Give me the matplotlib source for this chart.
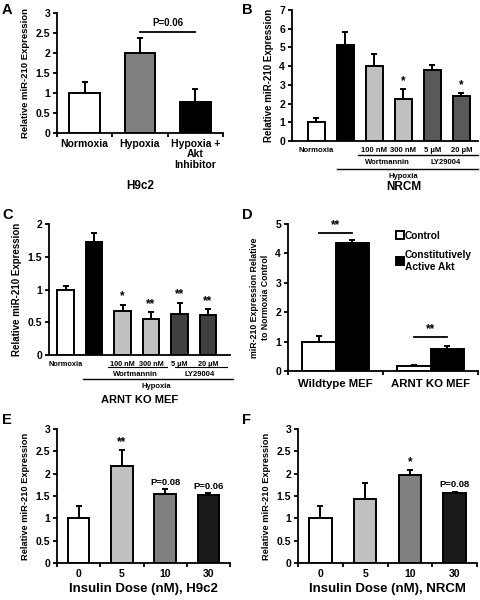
import matplotlib
matplotlib.use("Agg")
import matplotlib.pyplot as plt
from matplotlib.transforms import offset_copy
from matplotlib.lines import Line2D
import numpy as np

plt.rcParams['font.family'] = ['Liberation Sans', 'DejaVu Sans']
plt.rcParams['font.weight'] = 'bold'
plt.rcParams['axes.labelweight'] = 'bold'

# ---- data ----
a_labels = ["Normoxia", "Hypoxia", "Hypoxia +\nAkt\nInhibitor"]
a_vals = [1.0, 2.0, 0.78]
a_err = [0.28, 0.38, 0.32]
a_colors = ["white", "#808080", "black"]

b_labels = ["Normoxia", "", "100 nM", "300 nM", "5 µM", "20 µM"]
b_vals = [1.0, 5.15, 4.0, 2.22, 3.82, 2.42]
b_err = [0.22, 0.68, 0.65, 0.55, 0.22, 0.15]
b_colors = ["white", "black", "#c0c0c0", "#c0c0c0", "#595959", "#595959"]
b_stars = ["", "", "", "*", "", "*"]

c_labels = ["Normoxia", "", "100 nM", "300 nM", "5 µM", "20 µM"]
c_vals = [1.0, 1.73, 0.67, 0.55, 0.63, 0.61]
c_err = [0.06, 0.13, 0.10, 0.10, 0.17, 0.09]
c_colors = ["white", "black", "#c0c0c0", "#c0c0c0", "#404040", "#404040"]
c_stars = ["", "", "*", "**", "**", "**"]

d_groups = ["Wildtype MEF", "ARNT KO MEF"]
d_control = [1.0, 0.18]
d_control_err = [0.18, 0.04]
d_active = [4.35, 0.75]
d_active_err = [0.10, 0.10]

e_labels = ["0", "5", "10", "30"]
e_vals = [1.0, 2.18, 1.55, 1.52]
e_err = [0.27, 0.34, 0.10, 0.04]
e_colors = ["white", "#c0c0c0", "#808080", "#1a1a1a"]
e_notes = ["", "**", "P=0.08", "P=0.06"]

f_labels = ["0", "5", "10", "30"]
f_vals = [1.0, 1.43, 1.97, 1.56]
f_err = [0.27, 0.35, 0.11, 0.04]
f_colors = ["white", "#c0c0c0", "#808080", "#1a1a1a"]
f_notes = ["", "", "*", "P=0.08"]

W, H = 480, 600
fig = plt.figure(figsize=(4.8, 6), dpi=100)


def px_axes(l, r, t, b):
    return fig.add_axes([l / W, 1 - b / H, (r - l) / W, (b - t) / H])


def style(ax, ymax, yticks, ylabels, xlim, n, ysize=7.5):
    for s in ["top", "right"]:
        ax.spines[s].set_visible(False)
    for s in ["left", "bottom"]:
        ax.spines[s].set_linewidth(1.3)
    ax.set_ylim(0, ymax)
    ax.set_xlim(*xlim)
    ax.set_yticks(yticks)
    ax.set_yticklabels(ylabels, fontsize=ysize)
    ax.tick_params(axis="y", direction="out", length=3, width=1.3, pad=2)
    ax.set_xticks(np.arange(n) - 0.5, minor=True)
    ax.tick_params(axis="x", which="minor", direction="out", length=3, width=1.3)
    ax.tick_params(axis="x", which="major", length=0)


def bars(ax, vals, errs, colors, width):
    x = np.arange(len(vals))
    ax.errorbar(x, vals, yerr=[np.zeros(len(errs)), errs], fmt="none",
                ecolor="black", elinewidth=1.4, capsize=2, capthick=1.4, zorder=2)
    ax.bar(x, vals, width=width, color=colors, edgecolor="black", linewidth=1.4, zorder=3)
    return x


def below(ax, d):
    return offset_copy(ax.get_xaxis_transform(), fig=fig, y=-d, units="dots")


def hline(ax, x0, x1, d, lw=1.0):
    ax.plot([x0, x1], [0, 0], color="black", lw=lw, transform=below(ax, d), clip_on=False)


def ptext(ax, x, d, s, size, **kw):
    ax.text(x, 0, s, transform=below(ax, d), ha="center", va="center",
            fontsize=size, fontweight="bold", **kw)


# ---- A ----
axA = px_axes(57, 223, 13, 133)
style(axA, 3, [0, 0.5, 1, 1.5, 2, 2.5, 3], ["0", "0.5", "1", "1.5", "2", "2.5", "3"],
      (-0.5, 2.5), 4)
xA = bars(axA, a_vals, a_err, a_colors, 0.55)
axA.set_xticks(xA)
axA.set_xticklabels(a_labels, fontsize=7.5, linespacing=1.1)
axA.tick_params(axis="x", which="major", pad=4)
axA.set_ylabel("Relative miR-210 Expression", fontsize=6.8, labelpad=4)
axA.plot([1, 2], [2.53, 2.53], color="black", lw=1.3)
axA.text(1.5, 2.62, "P=0.06", ha="center", va="bottom", fontsize=7)
ptext(axA, 1, 53, "H9c2", 8.5)

# ---- B ----
axB = px_axes(292, 478, 10, 141)
style(axB, 7, range(8), [str(i) for i in range(8)], (-0.84, 5.57), 7)
axB.xaxis.set_minor_locator(matplotlib.ticker.NullLocator())
xB = bars(axB, b_vals, b_err, b_colors, 0.58)
axB.set_xticks(xB)
axB.set_xticklabels(b_labels, fontsize=5.5)
axB.tick_params(axis="x", which="major", pad=4)
for i, s in enumerate(b_stars):
    if s:
        axB.text(xB[i], b_vals[i] + b_err[i] + 0.1, s, ha="center", va="bottom", fontsize=8.5)
axB.set_ylabel("Relative miR-210 Expression", fontsize=7, labelpad=4)
hline(axB, 1.45, 3.5, 14)
hline(axB, 3.55, 5.57, 14)
ptext(axB, 2.45, 22, "Wortmannin", 5.5)
ptext(axB, 4.47, 22, "LY29004", 5.5)
hline(axB, 0.7, 5.57, 28)
ptext(axB, 3.0, 36, "Hypoxia", 5.5)
ptext(axB, 3.0, 46, "NRCM", 8.5)

# ---- C ----
axC = px_axes(49, 230, 224, 355)
style(axC, 2, [0, 0.5, 1, 1.5, 2], ["0", "0.5", "1", "1.5", "2"], (-0.58, 5.77), 7)
axC.xaxis.set_minor_locator(matplotlib.ticker.NullLocator())
xC = bars(axC, c_vals, c_err, c_colors, 0.58)
axC.set_xticks(xC)
axC.set_xticklabels(c_labels, fontsize=5.3)
axC.tick_params(axis="x", which="major", pad=4)
for i, s in enumerate(c_stars):
    if s:
        axC.text(xC[i], c_vals[i] + c_err[i] + 0.03, s, ha="center", va="bottom", fontsize=8.5)
axC.set_ylabel("Relative miR-210 Expression", fontsize=7, labelpad=4)
hline(axC, 1.5, 3.56, 12, lw=0.8)
hline(axC, 3.84, 5.67, 12, lw=0.8)
ptext(axC, 2.45, 19, "Wortmannin", 5.5)
ptext(axC, 4.72, 19, "LY29004", 5.5)
hline(axC, 0.61, 5.88, 24)
ptext(axC, 3.2, 31, "Hypoxia", 5.5)
ptext(axC, 2.6, 45, "ARNT KO MEF", 8)

# ---- D ----
axD = px_axes(288, 478, 224, 371)
style(axD, 5, range(6), [str(i) for i in range(6)], (-0.5, 1.5), 3)
xD = np.arange(len(d_groups))
bw = 0.35
axD.errorbar(xD - bw / 2, d_control, yerr=[[0, 0], d_control_err], fmt="none",
             ecolor="black", elinewidth=1.4, capsize=2, capthick=1.4, zorder=2)
axD.errorbar(xD + bw / 2, d_active, yerr=[[0, 0], d_active_err], fmt="none",
             ecolor="black", elinewidth=1.4, capsize=2, capthick=1.4, zorder=2)
axD.bar(xD - bw / 2, d_control, width=bw, color="white", edgecolor="black", linewidth=1.4, zorder=3)
axD.bar(xD + bw / 2, d_active, width=bw, color="black", edgecolor="black", linewidth=1.4, zorder=3)
axD.set_xticks(xD)
axD.set_xticklabels(d_groups, fontsize=8.2)
axD.tick_params(axis="x", which="major", pad=6)
axD.set_ylabel("miR-210 Expression Relative\nto Normoxia Control", fontsize=6.3,
               labelpad=4, linespacing=1.2)
for i, h in enumerate([4.69, 1.16]):
    axD.plot([xD[i] - bw / 2, xD[i] + bw / 2], [h, h], color="black", lw=1.3)
    axD.text(xD[i], h + 0.05, "**", ha="center", va="bottom", fontsize=8.5)
handles = [Line2D([], [], marker="s", ls="none", mfc="white", mec="black", mew=1.4, ms=5.5),
           Line2D([], [], marker="s", ls="none", mfc="black", mec="black", mew=1.4, ms=5.5)]
axD.legend(handles, ["Control", "Constitutively\nActive Akt"], loc="upper left",
           bbox_to_anchor=(0.55, 0.98), frameon=False, fontsize=7.3, handlelength=0.6,
           handletextpad=0.2, labelspacing=0.9, borderaxespad=0)

# ---- E ----
axE = px_axes(57, 230, 429, 563)
style(axE, 3, [0, 0.5, 1, 1.5, 2, 2.5, 3], ["0", "0.5", "1", "1.5", "2", "2.5", "3"],
      (-0.5, 3.5), 5)
xE = bars(axE, e_vals, e_err, e_colors, 0.5)
axE.set_xticks(xE)
axE.set_xticklabels(e_labels, fontsize=7.5)
axE.tick_params(axis="x", which="major", pad=4)
axE.set_ylabel("Relative miR-210 Expression", fontsize=6.7, labelpad=4)
axE.set_xlabel("Insulin Dose (nM), H9c2", fontsize=9.5, labelpad=3)
for i, s in enumerate(e_notes):
    if s:
        axE.text(xE[i], e_vals[i] + e_err[i] + 0.05, s, ha="center", va="bottom",
                 fontsize=8.5 if "*" in s else 6.8)

# ---- F ----
axF = px_axes(298, 477, 429, 563)
style(axF, 3, [0, 0.5, 1, 1.5, 2, 2.5, 3], ["0", "0.5", "1", "1.5", "2", "2.5", "3"],
      (-0.5, 3.5), 5)
xF = bars(axF, f_vals, f_err, f_colors, 0.5)
axF.set_xticks(xF)
axF.set_xticklabels(f_labels, fontsize=7.5)
axF.tick_params(axis="x", which="major", pad=4)
axF.set_ylabel("Relative miR-210 Expression", fontsize=6.7, labelpad=4)
axF.set_xlabel("Insulin Dose (nM), NRCM", fontsize=9.5, labelpad=3)
for i, s in enumerate(f_notes):
    if s:
        axF.text(xF[i], f_vals[i] + f_err[i] + 0.05, s, ha="center", va="bottom",
                 fontsize=8.5 if "*" in s else 6.8)

# panel letters
for letter, (x, y) in zip("ABCDEF", [(2, 3), (242, 3), (2, 208), (242, 208), (2, 413), (242, 413)]):
    fig.text(x / W, 1 - y / H, letter, fontsize=10.5, fontweight="bold", va="top", ha="left")

fig.savefig("out.png", dpi=100)
